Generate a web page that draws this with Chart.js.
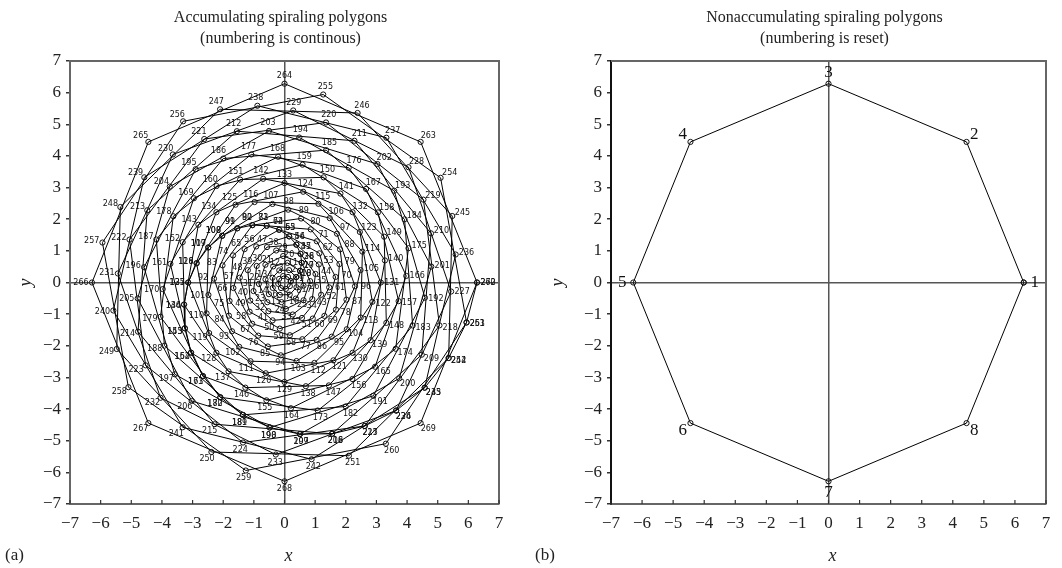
<!DOCTYPE html>
<html>
<head>
<meta charset="utf-8">
<script src="https://cdn.jsdelivr.net/npm/chart.js@4.4.1/dist/chart.umd.min.js"></script>
<style>
  body { margin: 0; background: #fff; }
  #wrap { position: relative; width: 1062px; height: 568px; }
  .panel { position: absolute; top: 0; width: 531px; height: 568px; }
</style>
</head>
<body>
<div id="wrap">
  <div class="panel" style="left:0"><canvas id="chartA" width="531" height="568"></canvas></div>
  <div class="panel" style="left:531px"><canvas id="chartB" width="531" height="568"></canvas></div>
</div>
<script>
// radius and turn (degrees) of each of the 30 polygons
var polygonRadius = [0.209, 0.419, 0.628, 0.838, 1.047, 1.257, 1.466, 1.676, 1.885, 2.094,
                     2.304, 2.513, 2.723, 2.932, 3.142, 3.351, 3.560, 3.770, 3.979, 4.189,
                     4.398, 4.608, 4.817, 5.027, 5.236, 5.445, 5.655, 5.864, 6.074, 6.283];
var polygonTurn = [12, 24, 36, 48, 60, 72, 84, 96, 108, 120,
                   132, 144, 156, 168, 180, 192, 204, 216, 228, 240,
                   252, 264, 276, 288, 300, 312, 324, 336, 348, 360];
// octagon corners, the 9th closes the polygon
var vertexAngle = [0, 45, 90, 135, 180, 225, 270, 315, 360];
var axisTicks = [-7, -6, -5, -4, -3, -2, -1, 0, 1, 2, 3, 4, 5, 6, 7];

var titleA = ["Accumulating spiraling polygons", "(numbering is continous)"];
var titleB = ["Nonaccumulating spiraling polygons", "(numbering is reset)"];

function polygonPoints(j) {
  var pts = [];
  for (var k = 0; k < vertexAngle.length; k++) {
    var a = (polygonTurn[j] + vertexAngle[k]) * Math.PI / 180;
    pts.push({ x: polygonRadius[j] * Math.cos(a), y: polygonRadius[j] * Math.sin(a) });
  }
  return pts;
}

// left: all polygons, numbering keeps counting
var spiralPoints = [];
for (var j = 0; j < polygonRadius.length; j++) {
  polygonPoints(j).forEach(function(p) {
    p.label = String(spiralPoints.length + 1);
    spiralPoints.push(p);
  });
}
// right: only the last polygon, numbering starts again
var lastPoints = polygonPoints(polygonRadius.length - 1);
lastPoints.forEach(function(p, i) { p.label = i < 8 ? String(i + 1) : ""; });

var numberLabels = {
  id: 'numberLabels',
  afterDatasetsDraw: function(chart, args, opts) {
    var ctx = chart.ctx, xs = chart.scales.x, ys = chart.scales.y;
    var ox = xs.getPixelForValue(0), oy = ys.getPixelForValue(0);
    ctx.save();
    ctx.font = opts.font;
    ctx.fillStyle = '#111';
    ctx.textAlign = 'center';
    ctx.textBaseline = 'middle';
    chart.data.datasets[0].data.forEach(function(p) {
      if (!p.label) return;
      var px = xs.getPixelForValue(p.x), py = ys.getPixelForValue(p.y);
      var a = Math.atan2(py - oy, px - ox);
      ctx.fillText(p.label, px + Math.cos(a) * opts.dx, py + Math.sin(a) * opts.dy);
    });
    ctx.restore();
  }
};

var decor = {
  id: 'decor',
  afterDraw: function(chart, args, opts) {
    var ctx = chart.ctx, area = chart.chartArea, xs = chart.scales.x;
    ctx.save();
    ctx.strokeStyle = '#666';
    ctx.lineWidth = 2;
    ctx.beginPath();
    ctx.moveTo(area.left, area.top);
    ctx.lineTo(area.right, area.top);
    ctx.lineTo(area.right, area.bottom);
    ctx.stroke();
    // short ticks pointing into the plot on the x axis
    ctx.strokeStyle = '#333';
    ctx.lineWidth = 1.2;
    axisTicks.forEach(function(v) {
      var px = xs.getPixelForValue(v);
      ctx.beginPath();
      ctx.moveTo(px, area.bottom);
      ctx.lineTo(px, area.bottom - 4);
      ctx.stroke();
    });
    var cx = (area.left + area.right) / 2;
    ctx.fillStyle = '#222';
    ctx.textAlign = 'center';
    ctx.textBaseline = 'middle';
    ctx.font = '16px "Liberation Serif", serif';
    ctx.fillText(opts.title[0], cx - 4, 18);
    ctx.fillText(opts.title[1], cx - 4, 39);
    ctx.font = 'italic 18px "Liberation Serif", serif';
    ctx.fillText('x', cx + 4, 556);
    ctx.save();
    ctx.translate(opts.yLabelX, (area.top + area.bottom) / 2);
    ctx.rotate(-Math.PI / 2);
    ctx.fillText('y', 0, 0);
    ctx.restore();
    ctx.font = '17px "Liberation Serif", serif';
    ctx.textAlign = 'left';
    ctx.fillText(opts.panel, opts.panelX, 556);
    ctx.restore();
  }
};

function tickText(v) {
  return v < 0 ? '\u2212' + Math.abs(v) : String(v);
}

function zeroLine(ctx) {
  return ctx.tick && ctx.tick.value === 0 ? '#555' : 'rgba(0,0,0,0)';
}

function makeChart(id, points, labelFont, dx, dy, axisWidth, padRight, title, panel, panelX, yLabelX, leftBorder) {
  return new Chart(document.getElementById(id), {
    type: 'scatter',
    data: {
      datasets: [{
        data: points,
        showLine: true,
        borderColor: '#000',
        borderWidth: 1,
        pointRadius: 2.6,
        pointBorderWidth: 1,
        pointBorderColor: '#111',
        pointBackgroundColor: 'rgba(0,0,0,0)'
      }]
    },
    options: {
      responsive: false,
      animation: false,
      layout: { padding: { top: 61, right: padRight, left: 0, bottom: 0 } },
      scales: {
        x: {
          type: 'linear', min: -7, max: 7,
          afterFit: function(s) { s.height = 64; },
          afterBuildTicks: function(s) { s.ticks = axisTicks.map(function(v) { return { value: v }; }); },
          grid: { drawOnChartArea: true, drawTicks: false, color: zeroLine, lineWidth: 1.5 },
          border: { display: true, color: '#666', width: 2 },
          ticks: { padding: 9, color: '#222', font: { family: '"Liberation Serif", serif', size: 17 },
                   maxRotation: 0, autoSkip: false, callback: tickText }
        },
        y: {
          type: 'linear', min: -7, max: 7,
          afterFit: function(s) { s.width = axisWidth; },
          afterBuildTicks: function(s) { s.ticks = axisTicks.map(function(v) { return { value: v }; }); },
          grid: { drawOnChartArea: true, drawTicks: true, tickLength: 4, color: zeroLine,
                  tickColor: '#333', lineWidth: 1.5 },
          border: { display: true, color: leftBorder, width: 2 },
          ticks: { padding: 5, color: '#222', font: { family: '"Liberation Serif", serif', size: 17 },
                   autoSkip: false, callback: tickText }
        }
      },
      plugins: {
        legend: { display: false },
        tooltip: { enabled: false },
        numberLabels: { font: labelFont, dx: dx, dy: dy },
        decor: { title: title, panel: panel, panelX: panelX, yLabelX: yLabelX }
      }
    },
    plugins: [numberLabels, decor]
  });
}

makeChart('chartA', spiralPoints, '8px "DejaVu Sans", sans-serif', 11, 8, 70, 32, titleA, '(a)', 5, 26, '#666');
makeChart('chartB', lastPoints, '17px "Liberation Serif", serif', 11, 11, 80, 16, titleB, '(b)', 4, 27, '#111');
</script>
</body>
</html>
